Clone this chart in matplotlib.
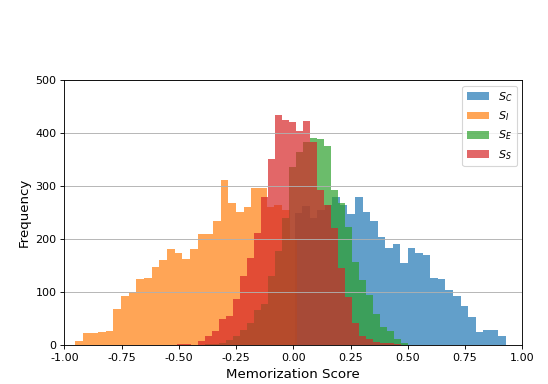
import numpy as np
import matplotlib
matplotlib.use("Agg")
import matplotlib.pyplot as plt

# Histogram bin ranges (data units) and counts per bin
sc_range = (0.006, 0.928)
sc_counts = [250, 262, 240, 255, 265, 280, 265, 248, 279, 252, 235, 205, 184, 191,
             155, 184, 174, 170, 128, 125, 105, 93, 74, 53, 25, 29, 29, 17]

si_range = (-0.953, 0.018)
si_counts = [9, 23, 24, 25, 27, 69, 93, 101, 125, 127, 148, 161, 181, 175, 163, 182,
             210, 210, 235, 312, 268, 252, 261, 297, 297, 261, 264, 255, 200]

se_range = (-0.5066, 0.5022)
se_counts = [0, 0, 0, 1, 2, 3, 5, 10, 17, 29, 42, 67, 79, 130, 177, 240, 337, 365,
             384, 390, 388, 376, 293, 268, 224, 158, 123, 95, 60, 35, 28, 12, 4]

ss_range = (-0.5066, 0.4716)
ss_counts = [3, 3, 1, 8, 17, 28, 50, 55, 88, 130, 165, 211, 279, 352, 434, 425, 420,
             404, 423, 384, 293, 265, 221, 145, 92, 42, 17, 12, 7, 5, 4, 2]

labels = ["$S_C$", "$S_I$", "$S_E$", "$S_S$"]
colors = ["#1f77b4", "#ff7f0e", "#2ca02c", "#d62728"]

fig = plt.figure(figsize=(6.85, 4.8), dpi=80)
ax = fig.add_axes([0.1173, 0.1003, 0.8358, 0.6914])

series = [(sc_range, sc_counts), (si_range, si_counts),
          (se_range, se_counts), (ss_range, ss_counts)]
for (rng, counts), lab, col in zip(series, labels, colors):
    edges = np.linspace(rng[0], rng[1], len(counts) + 1)
    centers = (edges[:-1] + edges[1:]) / 2
    ax.hist(centers, bins=edges, weights=counts, alpha=0.7, color=col, label=lab)

ax.set_xlim(-1.0, 1.0)
ax.set_ylim(0, 500)
ax.set_xticks(np.arange(-1.0, 1.01, 0.25))
ax.set_yticks(np.arange(0, 501, 100))
ax.xaxis.set_major_formatter(matplotlib.ticker.FormatStrFormatter("%.2f"))
ax.grid(axis="y")
ax.set_xlabel("Memorization Score", fontsize=12)
ax.set_ylabel("Frequency", fontsize=12)
ax.legend(loc="upper right")

fig.savefig("out.png", dpi=80)
